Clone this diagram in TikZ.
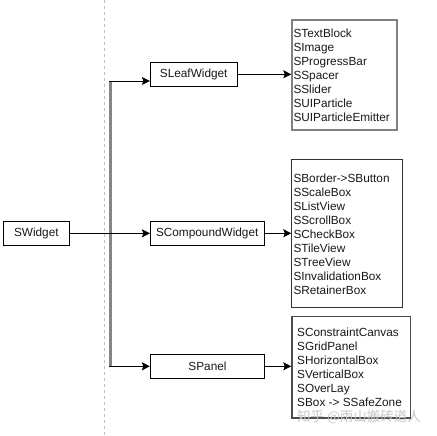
\documentclass[tikz,border=0pt]{standalone}
\usepackage{fontspec}
\setmainfont{Liberation Sans}
\newfontfamily\cjkfont{Noto Sans CJK SC}
\usetikzlibrary{arrows.meta}
\newcommand{\lst}[1]{\begin{tabular}[t]{@{}l@{}}#1\end{tabular}}
\begin{document}
\begin{tikzpicture}[x=1pt,y=1pt,
  every node/.style={font=\fontsize{11.8}{14}\selectfont, text=black!90},
  classbox/.style={draw=black, line width=0.9pt, minimum height=24pt, inner sep=0pt},
  listbox/.style={anchor=north west, inner sep=0pt},
  listtext/.style={anchor=base west, inner sep=0pt},
  arr/.style={draw=black, line width=0.9pt, -{Stealth[length=8pt,width=8pt,inset=1.5pt]}},
  trunk/.style={draw=black!48, line width=2.5pt},
  guide/.style={draw=black!25, line width=0.8pt, dash pattern=on 3pt off 3pt}
]
\useasboundingbox (0,0) rectangle (436,-436);
\fill[white] (0,0) rectangle (436,-436);

% guide line
\coordinate (gtop) at (104.3,0);
\coordinate (gbot) at (104.3,-436);
\draw[guide] (gtop) -- (gbot);

% class nodes
\node[classbox, minimum width=66pt] (sw) at (36.3,-233.3) {SWidget};
\node[classbox, minimum width=86.7pt] (leaf) at (193.7,-74.3) {SLeafWidget};
\node[classbox, minimum width=113.7pt] (comp) at (207.2,-233.3) {SCompoundWidget};
\node[classbox, minimum width=114.4pt] (panel) at (207.5,-366.3) {SPanel};

% list boxes
\node[listbox, draw=black!50, line width=2pt, minimum width=105pt, minimum height=110.3pt] (l1) at (291.3,-19) {};
\node[listbox, draw=black!80, line width=1pt, minimum width=111pt, minimum height=148pt] (l2) at (291.3,-159.3) {};
\node[listbox, draw=black!70, line width=1.5pt, minimum width=118.4pt, minimum height=101.3pt] (l3) at (291.3,-315.7) {};

\node[listtext] (t1) at (293.3,-37.3) {\lst{STextBlock\\SImage\\SProgressBar\\SSpacer\\SSlider\\SUIParticle\\SUIParticleEmitter}};
\node[listtext] (t2) at (293.3,-182.7) {\lst{SBorder->SButton\\SScaleBox\\SListView\\SScrollBox\\SCheckBox\\STileView\\STreeView\\SInvalidationBox\\SRetainerBox}};
\node[listtext] (t3) at (297,-336.3) {\lst{SConstraintCanvas\\SGridPanel\\SHorizontalBox\\SVerticalBox\\SOverLay\\SBox -> SSafeZone}};

% connectors
\coordinate (jtop) at (110.3,-81);
\coordinate (jbot) at (110.3,-366.3);
\draw[trunk] (jtop) -- (jbot);
\draw[arr] (sw.east) -- (comp.west);
\draw[arr] ([xshift=-1.2pt]jtop) -- (jtop -| leaf.west);
\draw[arr] ([xshift=-1.2pt]jbot) -- (panel.west);
\draw[arr] (leaf.east) -- (leaf.east -| l1.west);
\draw[arr] (comp.east) -- (comp.east -| l2.west);
\draw[arr] (panel.east) -- (panel.east -| l3.west);

% watermark
\node[anchor=base west, inner sep=0pt, font=\cjkfont\fontsize{13.5}{14}\selectfont, text=black!22] (wm) at (297,-421.5) {知乎 @雨山搬砖道人};
\end{tikzpicture}
\end{document}
